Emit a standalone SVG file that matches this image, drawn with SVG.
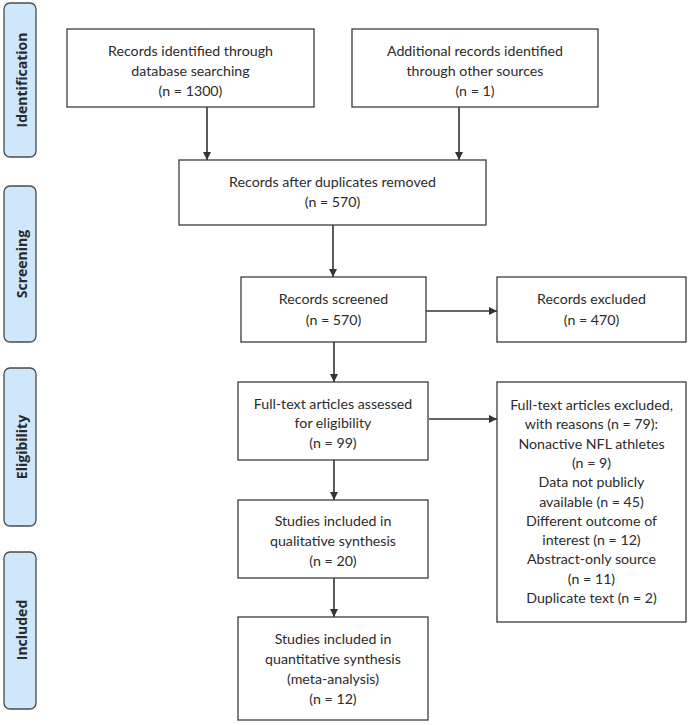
<svg xmlns="http://www.w3.org/2000/svg" width="690" height="725" viewBox="0 0 690 725">
<defs>
<style>
.bg{fill:#ffffff}
.box{fill:#ffffff;stroke:#3c3c3c;stroke-width:1.3}
.side{fill:#cfe7fa;stroke:#4a4a4a;stroke-width:1.3}
.t{font-family:Lato,"Liberation Sans",sans-serif;font-size:14.2px;fill:#2b2b2b;text-anchor:middle}
.s{font-family:"Open Sans","Liberation Sans",sans-serif;font-size:14px;font-weight:bold;fill:#2b2b2b;text-anchor:middle}
.c{stroke:#333333;stroke-width:1.6;fill:none;marker-end:url(#ah)}
</style>
<marker id="ah" viewBox="0 0 10 10" refX="10" refY="5" markerWidth="5.5" markerHeight="5" markerUnits="strokeWidth" orient="auto">
<path d="M0,0 L10,5 L0,10 Z" fill="#333333"/>
</marker>
</defs>
<rect class="bg" x="0" y="0" width="690" height="725"/>

<g id="side-identification">
<rect class="side" x="4" y="3" width="32" height="154" rx="6"/>
<text class="s" transform="translate(26.5,80) rotate(-90)">Identification</text>
</g>
<g id="side-screening">
<rect class="side" x="4" y="186" width="32" height="156" rx="6"/>
<text class="s" transform="translate(26.5,264) rotate(-90)">Screening</text>
</g>
<g id="side-eligibility">
<rect class="side" x="4" y="368" width="32" height="158" rx="6"/>
<text class="s" transform="translate(26.5,447) rotate(-90)">Eligibility</text>
</g>
<g id="side-included">
<rect class="side" x="4" y="552" width="32" height="157" rx="6"/>
<text class="s" transform="translate(26.5,630) rotate(-90)">Included</text>
</g>

<g id="connectors">
<line class="c" x1="207" y1="107" x2="207" y2="160"/>
<line class="c" x1="459" y1="107" x2="459" y2="160"/>
<line class="c" x1="333" y1="225" x2="333" y2="277"/>
<line class="c" x1="426" y1="311" x2="497" y2="311"/>
<line class="c" x1="334" y1="342" x2="334" y2="382"/>
<line class="c" x1="429" y1="419" x2="497" y2="419"/>
<line class="c" x1="334" y1="460" x2="334" y2="500"/>
<line class="c" x1="334" y1="578" x2="334" y2="617"/>
</g>

<g id="n1">
<rect class="box" x="67" y="29" width="247" height="78"/>
<text class="t" x="190.5" y="56">Records identified through</text>
<text class="t" x="190.5" y="76">database searching</text>
<text class="t" x="190.5" y="96">(n = 1300)</text>
</g>
<g id="n2">
<rect class="box" x="352" y="29" width="246" height="78"/>
<text class="t" x="475" y="56">Additional records identified</text>
<text class="t" x="475" y="76">through other sources</text>
<text class="t" x="475" y="96">(n = 1)</text>
</g>
<g id="n3">
<rect class="box" x="179" y="160" width="307" height="65"/>
<text class="t" x="332.5" y="187">Records after duplicates removed</text>
<text class="t" x="332.5" y="207">(n = 570)</text>
</g>
<g id="n4">
<rect class="box" x="241" y="277" width="185" height="65"/>
<text class="t" x="333.5" y="304">Records screened</text>
<text class="t" x="333.5" y="325">(n = 570)</text>
</g>
<g id="n5">
<rect class="box" x="497" y="277" width="189" height="65"/>
<text class="t" x="591.5" y="304">Records excluded</text>
<text class="t" x="591.5" y="325">(n = 470)</text>
</g>
<g id="n6">
<rect class="box" x="238" y="382" width="190" height="78"/>
<text class="t" x="333" y="409">Full-text articles assessed</text>
<text class="t" x="333" y="428">for eligibility</text>
<text class="t" x="333" y="448">(n = 99)</text>
</g>
<g id="n7">
<rect class="box" x="238" y="500" width="190" height="78"/>
<text class="t" x="333" y="526">Studies included in</text>
<text class="t" x="333" y="546">qualitative synthesis</text>
<text class="t" x="333" y="566">(n = 20)</text>
</g>
<g id="n8">
<rect class="box" x="238" y="617" width="190" height="103"/>
<text class="t" x="333" y="644">Studies included in</text>
<text class="t" x="333" y="664">quantitative synthesis</text>
<text class="t" x="333" y="684">(meta-analysis)</text>
<text class="t" x="333" y="704">(n = 12)</text>
</g>
<g id="n9">
<rect class="box" x="497" y="382" width="189" height="240"/>
<text class="t" x="591.5" y="410">Full-text articles excluded,</text>
<text class="t" x="591.5" y="429.3">with reasons (n = 79):</text>
<text class="t" x="591.5" y="448.6">Nonactive NFL athletes</text>
<text class="t" x="591.5" y="467.9">(n = 9)</text>
<text class="t" x="591.5" y="487.2">Data not publicly</text>
<text class="t" x="591.5" y="506.5">available (n = 45)</text>
<text class="t" x="591.5" y="525.8">Different outcome of</text>
<text class="t" x="591.5" y="545.1">interest (n = 12)</text>
<text class="t" x="591.5" y="564.4">Abstract-only source</text>
<text class="t" x="591.5" y="583.7">(n = 11)</text>
<text class="t" x="591.5" y="603">Duplicate text (n = 2)</text>
</g>
</svg>
